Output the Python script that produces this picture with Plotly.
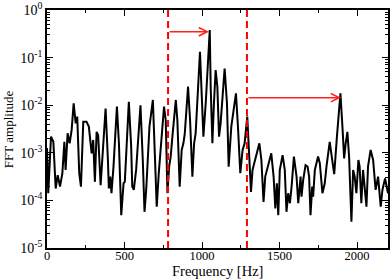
import numpy as np
import plotly.graph_objects as go

# ---- data (frequency in Hz, log10 of FFT amplitude) ----
freq = [0, 8, 26, 41, 56, 69, 84, 99, 112, 120, 133, 146, 159, 172, 185, 195, 208, 219,
        234, 255, 270, 288, 298, 309, 320, 330, 346, 378, 393, 399, 408, 416, 429, 451,
        464, 479, 494, 502, 528, 543, 550, 560, 575, 603, 618, 629, 640, 661, 683, 693,
        708, 721, 755, 766, 777, 788, 798, 809, 831, 841, 856, 869, 880, 889, 910, 923,
        938, 949, 959, 987, 996, 1009, 1024, 1035, 1050, 1056, 1067, 1077, 1088, 1099,
        1110, 1120, 1146, 1161, 1172, 1189, 1219, 1232, 1247, 1262, 1275, 1292, 1305,
        1316, 1326, 1344, 1370, 1383, 1397, 1408, 1423, 1447, 1462, 1473, 1483, 1492,
        1502, 1520, 1534, 1545, 1556, 1567, 1578, 1593, 1610, 1621, 1636, 1642, 1653,
        1668, 1681, 1691, 1700, 1711, 1717, 1728, 1749, 1760, 1777, 1792, 1803, 1824,
        1840, 1853, 1870, 1893, 1906, 1917, 1927, 1938, 1949, 1964, 1975, 1985, 1996,
        2009, 2017, 2028, 2039, 2050, 2061, 2071, 2088, 2104, 2120, 2136, 2153, 2164,
        2181, 2200]
amp_log10 = [-2.9, -3.85, -2.66, -2.77, -3.75, -3.47, -3.71, -3.43, -2.77, -3.36, -2.59,
             -2.80, -2.52, -1.96, -2.38, -2.24, -3.43, -3.71, -2.35, -2.35, -2.45, -3.01,
             -2.73, -3.61, -2.56, -2.63, -3.68, -2.07, -3.15, -3.75, -3.50, -3.85, -3.29,
             -2.03, -2.80, -4.31, -3.64, -3.61, -1.93, -2.87, -3.71, -3.78, -3.36, -2.00,
             -3.15, -4.24, -3.78, -2.45, -1.89, -2.80, -4.13, -3.43, -2.03, -2.31, -3.85,
             -3.29, -3.08, -2.66, -1.89, -2.31, -3.71, -2.94, -2.80, -2.59, -1.61, -2.31,
             -3.50, -2.80, -2.59, -0.876, -1.61, -2.66, -1.96, -1.26, -0.42, -1.61, -2.80,
             -1.96, -1.26, -1.61, -2.66, -2.38, -1.23, -1.96, -3.29, -2.45, -1.75, -2.45,
             -3.43, -2.94, -2.80, -2.24, -3.15, -3.82, -3.36, -3.15, -2.80, -3.15, -4.03,
             -3.50, -3.29, -3.01, -3.50, -4.17, -3.64, -4.31, -3.36, -3.05, -3.36, -4.24,
             -3.85, -4.06, -3.71, -3.08, -3.50, -4.06, -3.50, -3.92, -3.57, -3.26, -3.29,
             -3.50, -4.31, -3.71, -3.92, -3.36, -3.08, -3.22, -3.85, -3.64, -3.29, -2.77,
             -3.15, -3.45, -2.68, -1.75, -2.45, -3.12, -2.80, -2.56, -3.08, -4.45, -3.36,
             -3.50, -3.85, -3.15, -3.29, -4.06, -3.36, -3.85, -4.13, -3.29, -2.94, -3.15,
             -3.78, -3.50, -4.13, -3.78, -3.54, -3.85]

marker_freqs = [781, 1290]          # red dashed vertical lines
arrow_targets_freq = [1045, 1897]   # arrow tips
arrow_levels = [0.35, 0.0144]       # arrow heights (amplitude)

x_ticks = [0, 500, 1000, 1500, 2000]
x_minor = [250, 750, 1250, 1750]
y_exps = [0, -1, -2, -3, -4, -5]

amp = [10 ** v for v in amp_log10]

fig = go.Figure()
fig.add_trace(go.Scatter(x=freq, y=amp, mode="lines",
                         line=dict(color="black", width=2), hoverinfo="skip"))

for xf in marker_freqs:
    fig.add_shape(type="line", xref="x", yref="paper", x0=xf, x1=xf, y0=0, y1=1,
                  line=dict(color="#ff0000", width=2, dash="7px,4px"))

for x0, x1, lv in zip(marker_freqs, arrow_targets_freq, arrow_levels):
    fig.add_annotation(x=x1, y=np.log10(lv), ax=x0, ay=np.log10(lv),
                       xref="x", yref="y", axref="x", ayref="y", text="",
                       showarrow=True, arrowhead=5, arrowsize=1.1, arrowwidth=1.5,
                       arrowcolor="#ff2020", standoff=0, startstandoff=0)

# axis titles as paper-anchored text
fig.add_annotation(text="Frequency [Hz]", xref="paper", yref="paper", x=0.5, y=-0.096,
                   xanchor="center", yanchor="middle", showarrow=False,
                   font=dict(size=14.5, family="Liberation Serif", color="black"))
fig.add_annotation(text="FFT amplitude", xref="paper", yref="paper", x=-0.114, y=0.5,
                   xanchor="center", yanchor="middle", showarrow=False, textangle=-90,
                   font=dict(size=13, family="Liberation Serif", color="black"))

y_minor = [m * 10.0 ** e for e in range(-5, 0) for m in range(2, 10)]

fig.update_layout(
    width=390, height=279,
    margin=dict(l=47, r=2, t=10, b=31),
    paper_bgcolor="white", plot_bgcolor="white",
    showlegend=False,
    font=dict(family="Liberation Serif", color="black"),
    xaxis=dict(
        range=[0, 2200], tickmode="array", tickvals=x_ticks, automargin=False,
        ticks="inside", ticklen=6, tickwidth=1.2, tickcolor="black",
        ticklabelstandoff=-5,
        showline=True, linecolor="black", linewidth=1.5, mirror="allticks",
        showgrid=False, zeroline=False,
        tickfont=dict(size=12.5, family="Liberation Serif"),
        minor=dict(tickmode="array", tickvals=x_minor, ticks="inside",
                   ticklen=3.5, tickwidth=1, tickcolor="black", showgrid=False),
    ),
    yaxis=dict(
        type="log", range=[-5, 0], tickmode="array", automargin=False,
        tickvals=[10.0 ** e for e in y_exps],
        ticktext=["10<sup>%s</sup>" % ("%d" % e if e >= 0 else "-%d" % (-e)) for e in y_exps],
        ticks="inside", ticklen=6, tickwidth=1.2, tickcolor="black",
        showline=True, linecolor="black", linewidth=1.5, mirror="allticks",
        showgrid=False, zeroline=False,
        tickfont=dict(size=14, family="Liberation Serif"),
        minor=dict(tickmode="array", tickvals=y_minor, ticks="inside",
                   ticklen=3.5, tickwidth=1, tickcolor="black", showgrid=False),
    ),
)

fig.write_html("out.html", config={"displayModeBar": False},
               post_script="document.body.style.margin='0px';document.body.style.overflow='hidden';")
